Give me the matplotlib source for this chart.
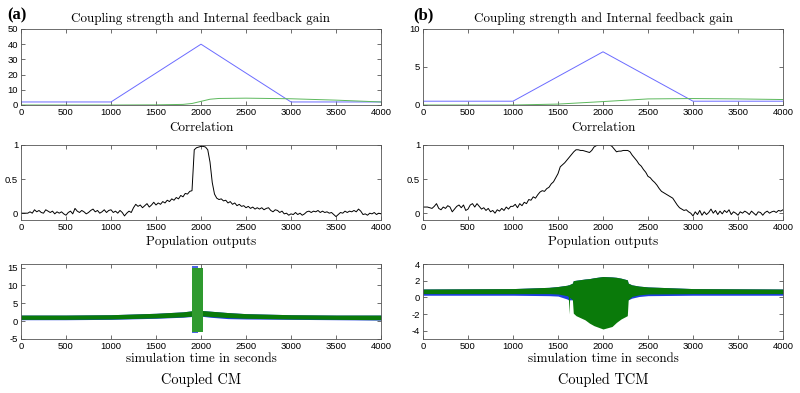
import numpy as np
import matplotlib
matplotlib.use("Agg")
import matplotlib.pyplot as plt

# ---------------- data ----------------
# Row 1: coupling strength (blue) and internal feedback gain (green)
coup_x = [0, 1000, 2000, 3000, 4000]
coup_a = [2, 2, 40, 2, 2]
coup_b = [0.5, 0.5, 7, 0.5, 0.5]
gain_x_a = [0, 1000, 1500, 1800, 1900, 2000, 2100, 2200, 2500, 3000, 3500, 4000]
gain_a = [0, 0, 0.1, 0.4, 1.0, 2.4, 3.8, 4.3, 4.5, 4.1, 3.2, 2.0]
gain_x_b = [0, 1000, 1500, 2000, 2500, 3000, 3500, 4000]
gain_b = [0, 0, 0.12, 0.45, 0.8, 0.85, 0.8, 0.72]

# Row 2: correlation, sampled every 25 s
corr_t = np.arange(0, 4001, 25)
corr_a = [
    0.00, 0.00, 0.00, 0.00, 0.02, 0.00, 0.05, 0.02,
    0.04, 0.01, 0.00, 0.05, 0.03, 0.01, 0.03, -0.01,
    0.02, 0.00, 0.02, -0.01, -0.03, 0.01, 0.03, -0.01,
    0.07, 0.03, 0.01, 0.04, 0.02, -0.01, 0.01, 0.04,
    0.06, 0.02, 0.04, 0.00, 0.02, 0.05, 0.01, 0.04,
    0.05, 0.01, 0.03, 0.00, 0.04, 0.01, -0.04, 0.00,
    0.03, 0.01, 0.08, 0.13, 0.10, 0.12, 0.08, 0.11,
    0.14, 0.09, 0.12, 0.16, 0.12, 0.15, 0.13, 0.17,
    0.15, 0.19, 0.17, 0.21, 0.19, 0.23, 0.21, 0.26,
    0.24, 0.29, 0.28, 0.32, 0.33, 0.93, 0.96, 0.97,
    0.98, 0.98, 0.97, 0.93, 0.75, 0.45, 0.28, 0.22,
    0.20, 0.21, 0.18, 0.19, 0.15, 0.17, 0.13, 0.15,
    0.11, 0.13, 0.10, 0.11, 0.08, 0.10, 0.07, 0.09,
    0.06, 0.08, 0.06, 0.08, 0.05, 0.07, 0.08, 0.04,
    0.02, 0.05, 0.04, 0.01, 0.03, -0.01, 0.00, -0.03,
    -0.01, -0.02, 0.01, -0.02, 0.00, -0.03, -0.01, 0.02,
    0.03, 0.01, 0.03, 0.02, 0.04, 0.01, 0.03, 0.01,
    0.02, 0.00, 0.01, -0.02, -0.05, -0.02, 0.01, 0.00,
    0.03, 0.01, 0.03, 0.02, 0.04, 0.02, 0.06, 0.03,
    -0.02, -0.01, -0.03, 0.00, -0.01, 0.01, -0.02, 0.00,
    -0.01]
corr_b = [
    0.09, 0.09, 0.09, 0.08, 0.07, 0.10, 0.14, 0.07,
    0.05, 0.09, 0.07, 0.11, 0.09, 0.02, 0.06, 0.10,
    0.12, 0.08, 0.12, 0.04, 0.06, 0.12, 0.14, 0.09,
    0.14, 0.10, 0.06, 0.08, 0.04, 0.07, 0.02, 0.04,
    0.00, 0.05, 0.03, 0.07, 0.04, 0.09, 0.06, 0.10,
    0.10, 0.13, 0.08, 0.14, 0.11, 0.16, 0.14, 0.20,
    0.19, 0.24, 0.22, 0.27, 0.31, 0.33, 0.32, 0.36,
    0.38, 0.43, 0.46, 0.52, 0.58, 0.68, 0.71, 0.74,
    0.78, 0.82, 0.86, 0.90, 0.93, 0.93, 0.92, 0.92,
    0.91, 0.90, 0.89, 0.92, 0.97, 0.99, 1.00, 1.00,
    1.00, 1.00, 1.00, 1.00, 0.98, 0.94, 0.90, 0.91,
    0.91, 0.92, 0.92, 0.92, 0.90, 0.85, 0.81, 0.77,
    0.72, 0.69, 0.64, 0.60, 0.54, 0.52, 0.48, 0.45,
    0.41, 0.36, 0.32, 0.30, 0.28, 0.26, 0.24, 0.22,
    0.17, 0.12, 0.08, 0.06, 0.04, 0.05, 0.02, 0.00,
    -0.04, 0.02, -0.02, 0.04, -0.03, 0.02, -0.02, 0.01,
    0.06, 0.00, 0.04, -0.02, 0.03, -0.01, 0.04, 0.01,
    0.05, -0.02, 0.02, 0.00, -0.03, 0.02, 0.00, 0.03,
    0.01, -0.02, 0.03, 0.00, -0.03, 0.02, 0.01, -0.03,
    0.01, 0.03, 0.00, 0.02, 0.03, 0.01, 0.04, 0.03,
    0.05]

# Row 3: population outputs, drawn as envelopes of the dense oscillations
pa_t = [0, 500, 1000, 1500, 1800, 1900, 2000, 2100, 2300, 2500, 3000, 3500, 4000]
pa_green_hi = [1.7, 1.7, 1.8, 2.2, 2.6, 2.9, 3.0, 2.8, 2.4, 2.1, 1.8, 1.7, 1.7]
pa_green_lo = [0.5, 0.5, 0.6, 0.9, 1.2, 1.4, 1.5, 1.3, 1.0, 0.8, 0.6, 0.5, 0.4]
pa_blue_lo = [0.4, 0.4, 0.5, 0.8, 1.1, 1.3, 1.4, 1.1, 0.7, 0.6, 0.5, 0.4, 0.3]
pa_spike_t = [1905, 2025]
pa_spike_hi = [15.0, 15.0]
pa_spike_lo = [-3.0, -3.0]
pa_spike_blue_t = [1905, 1970]
pa_spike_blue_hi = [15.4, 15.4]
pa_spike_blue_lo = [-3.3, -3.3]

pb_t = [0, 1000, 1400, 1500, 1600, 1615, 1622, 1630, 1660, 1670, 1700, 1800, 1850,
        1900, 2000, 2100, 2150, 2200, 2270, 2280, 2320, 2400, 2500, 3000, 4000]
pb_green_hi = [1.0, 1.05, 1.2, 1.3, 1.45, 1.5, 1.5, 1.55, 1.7, 2.0, 2.05, 2.2, 2.25,
               2.35, 2.5, 2.45, 2.4, 2.3, 2.1, 1.7, 1.5, 1.35, 1.25, 1.05, 1.0]
pb_green_lo = [0.45, 0.45, 0.45, 0.4, 0.2, 0.1, -2.0, 0.0, -0.3, -1.9, -2.2, -2.7, -3.1,
               -3.4, -3.8, -3.5, -3.0, -2.6, -2.2, -0.3, 0.1, 0.3, 0.4, 0.45, 0.45]
pb_blue_lo = [0.25, 0.25, 0.2, 0.15, -0.2, -0.3, -0.3, -0.3, -0.3, -0.3, -0.3, -0.3, -0.3,
              -0.3, -0.3, -0.3, -0.3, -0.3, -0.3, -0.3, -0.1, 0.1, 0.2, 0.25, 0.25]

# ---------------- style ----------------
BLUE = "#6b6bff"
LGREEN = "#5cb85c"
DGREEN = "#0a7a0a"
SPIKE_GREEN = "#2f9a2f"
PBLUE = "#1f3fe0"
TICKFONT = "Liberation Sans"
SERIF = "cmr10"

fig = plt.figure(figsize=(8, 3.93), dpi=100)

W = 0.45
lefts = [21 / 800, 423 / 800]
rows = [(1 - 105 / 393, 76 / 393), (1 - 220 / 393, 75 / 393), (1 - 339 / 393, 75 / 393)]


def style(ax, ylim, yticks):
    ax.set_xlim(0, 4000)
    ax.set_xticks(range(0, 4001, 500))
    ax.set_ylim(*ylim)
    ax.set_yticks(yticks)
    ax.tick_params(direction="in", length=3, width=0.5, labelsize=6.8,
                   top=True, right=True, pad=2, colors="#333333",
                   labelcolor="black")
    for lab in ax.get_xticklabels() + ax.get_yticklabels():
        lab.set_fontfamily(TICKFONT)
    for s in ax.spines.values():
        s.set_linewidth(0.6)
        s.set_color("#555555")


axes = {}
for ci, L in enumerate(lefts):
    for ri, (b, h) in enumerate(rows):
        axes[(ri, ci)] = fig.add_axes([L, b, W, h])

# Row 1
ax = axes[(0, 0)]
ax.plot(coup_x, coup_a, color=BLUE, lw=0.7)
ax.plot(gain_x_a, gain_a, color=LGREEN, lw=0.7)
style(ax, (0, 50), [0, 10, 20, 30, 40, 50])
ax.set_yticklabels(["0", "10", "20", "30", "40", "50"])

ax = axes[(0, 1)]
ax.plot(coup_x, coup_b, color=BLUE, lw=0.7)
ax.plot(gain_x_b, gain_b, color=LGREEN, lw=0.7)
style(ax, (0, 10), [0, 5, 10])
ax.set_yticklabels(["0", "5", "10"])

# Row 2
for ci, series in enumerate([corr_a, corr_b]):
    ax = axes[(1, ci)]
    ax.plot(corr_t, series, color="black", lw=0.7)
    style(ax, (-0.1, 1.0), [0, 0.5, 1])
    ax.set_yticklabels(["0", "0.5", "1"])

# Row 3 (a)
ax = axes[(2, 0)]
ax.fill_between(pa_t, pa_blue_lo, pa_green_hi, color=PBLUE, lw=0)
ax.fill_between(pa_t, pa_green_lo, pa_green_hi, color=DGREEN, lw=0)
ax.fill_between(pa_spike_blue_t, pa_spike_blue_lo, pa_spike_blue_hi, color=PBLUE, lw=0, alpha=0.8)
ax.fill_between(pa_spike_t, pa_spike_lo, pa_spike_hi, color=SPIKE_GREEN, lw=0)
style(ax, (-5, 16), [-5, 0, 5, 10, 15])
ax.set_yticklabels(["-5", "0", "5", "10", "15"])

# Row 3 (b)
ax = axes[(2, 1)]
ax.fill_between(pb_t, pb_blue_lo, pb_green_hi, color=PBLUE, lw=0)
ax.fill_between(pb_t, pb_green_lo, pb_green_hi, color=DGREEN, lw=0)
style(ax, (-5, 4), [-4, -2, 0, 2, 4])
ax.set_yticklabels(["-4", "-2", "0", "2", "4"])

# ---------------- text ----------------
TS = 9.4
for ci, (cx, lab, cap) in enumerate([(201 / 800, "(a)", "Coupled CM"),
                                      (603 / 800, "(b)", "Coupled TCM")]):
    fig.text(cx, 1 - 19 / 393, "Coupling strength and Internal feedback gain",
             family=SERIF, fontsize=TS, ha="center", va="center")
    fig.text(cx, 1 - 128 / 393, "Correlation", family=SERIF, fontsize=TS,
             ha="center", va="center")
    fig.text(cx, 1 - 242 / 393, "Population outputs", family=SERIF, fontsize=TS,
             ha="center", va="center")
    fig.text(cx, 1 - 359 / 393, "simulation time in seconds", family=SERIF,
             fontsize=TS, ha="center", va="center")
    fig.text(cx, 1 - 380 / 393, cap, family=SERIF, fontsize=TS + 1,
             ha="center", va="center")

fig.text(17 / 800, 1 - 15 / 393, "(a)", family="Liberation Serif",
         fontweight="bold", fontsize=12, ha="center", va="center")
fig.text(423 / 800, 1 - 15 / 393, "(b)", family="Liberation Serif",
         fontweight="bold", fontsize=12, ha="center", va="center")

fig.savefig("out.png", dpi=100)
